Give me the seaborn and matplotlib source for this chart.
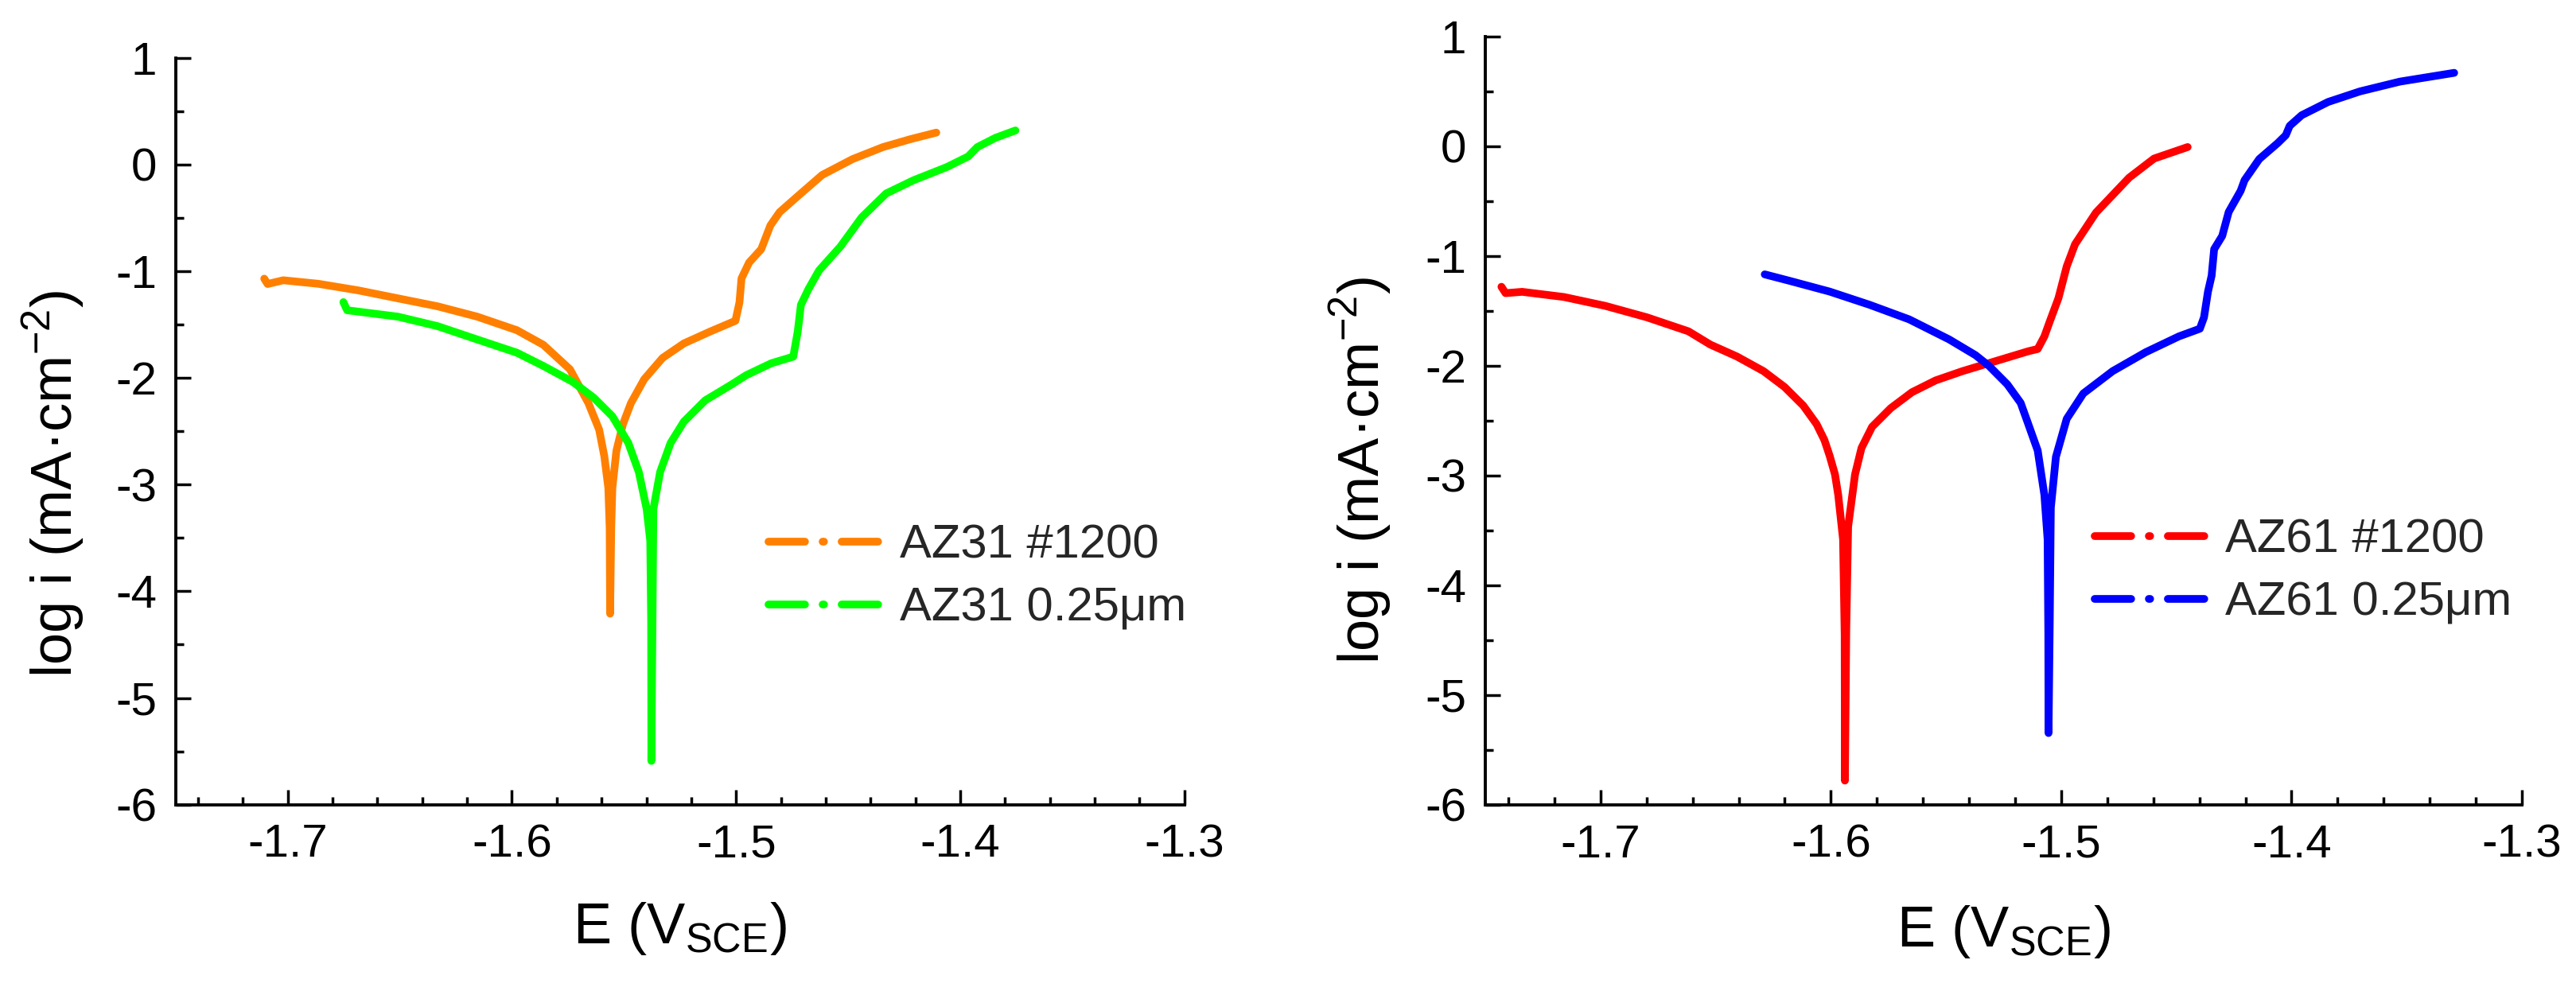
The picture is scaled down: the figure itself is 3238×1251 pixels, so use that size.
import numpy as np
import pandas as pd
import matplotlib
matplotlib.use('Agg')
import matplotlib.pyplot as plt
from matplotlib.lines import Line2D
from matplotlib.ticker import MultipleLocator, FormatStrFormatter
import seaborn as sns

# ---- AZ31 panel ----
az31_1200_E = [-1.7105, -1.7090, -1.7020, -1.6864, -1.6685, -1.6510, -1.6332, -1.6155, -1.5978,
               -1.5860, -1.5741, -1.5659, -1.5611, -1.5588, -1.5570, -1.5564, -1.5562, -1.5557,
               -1.5552, -1.5534, -1.5505, -1.5469, -1.5410, -1.5328, -1.5233, -1.5115, -1.5003,
               -1.4985, -1.4976, -1.4942, -1.4888, -1.4847, -1.4806, -1.4725, -1.4616, -1.4480,
               -1.4345, -1.4223, -1.4107]
az31_1200_logi = [-1.07, -1.12, -1.085, -1.118, -1.180, -1.254, -1.329, -1.426, -1.553,
                  -1.69, -1.92, -2.236, -2.485, -2.733, -3.031, -3.404, -4.21, -3.40,
                  -3.031, -2.684, -2.435, -2.236, -2.013, -1.813, -1.677, -1.565, -1.465,
                  -1.292, -1.068, -0.919, -0.794, -0.571, -0.447, -0.297, -0.098, 0.051,
                  0.163, 0.237, 0.299]

az31_025_E = [-1.6752, -1.6735, -1.6509, -1.6332, -1.6155, -1.5978, -1.5860, -1.5729, -1.5635,
              -1.5552, -1.5481, -1.5434, -1.5399, -1.5383, -1.5379, -1.5378, -1.5373, -1.5369,
              -1.5339, -1.5292, -1.5233, -1.5138, -1.5020, -1.4955, -1.4843, -1.4745, -1.4725,
              -1.4711, -1.4677, -1.4630, -1.4535, -1.4440, -1.4331, -1.4209, -1.4060, -1.3965,
              -1.3924, -1.3843, -1.3754]
az31_025_logi = [-1.29, -1.366, -1.426, -1.515, -1.640, -1.764, -1.888, -2.037, -2.186,
                 -2.360, -2.609, -2.882, -3.230, -3.528, -4.274, -5.59, -4.27, -3.230,
                 -2.882, -2.609, -2.410, -2.211, -2.062, -1.975, -1.863, -1.801, -1.565,
                 -1.316, -1.167, -0.993, -0.770, -0.496, -0.272, -0.148, -0.024, 0.075,
                 0.163, 0.250, 0.319]

# ---- AZ61 panel ----
az61_1200_E = [-1.7430, -1.7412, -1.7340, -1.7159, -1.6979, -1.6799, -1.6618, -1.6523, -1.6408,
               -1.6292, -1.6201, -1.6120, -1.6062, -1.6028, -1.6005, -1.5982, -1.5968, -1.5947,
               -1.5940, -1.5939, -1.5933, -1.5925, -1.5895, -1.5867, -1.5821, -1.5740, -1.5648,
               -1.5545, -1.5429, -1.5314, -1.5142, -1.5102, -1.5073, -1.5048, -1.5012, -1.4976,
               -1.4940, -1.4849, -1.4705, -1.4597, -1.4451]
az61_1200_logi = [-1.280, -1.338, -1.326, -1.373, -1.454, -1.558, -1.686, -1.807, -1.915,
                  -2.049, -2.193, -2.362, -2.531, -2.676, -2.821, -2.990, -3.177, -3.582,
                  -4.449, -5.779, -4.40, -3.466, -2.990, -2.749, -2.556, -2.386, -2.241,
                  -2.133, -2.049, -1.976, -1.867, -1.847, -1.732, -1.587, -1.384, -1.094,
                  -0.893, -0.604, -0.286, -0.112, -0.007]

az61_025_E = [-1.6287, -1.6177, -1.6005, -1.5832, -1.5660, -1.5487, -1.5372, -1.5314, -1.5234,
              -1.5176, -1.5147, -1.5102, -1.5073, -1.5059, -1.5056, -1.5055, -1.5050, -1.5045,
              -1.5023, -1.4976, -1.4904, -1.4777, -1.4633, -1.4489, -1.4398, -1.4380, -1.4363,
              -1.4347, -1.4336, -1.4301, -1.4273, -1.4221, -1.4204, -1.4140, -1.4060, -1.4025,
              -1.4008, -1.3956, -1.3841, -1.3703, -1.3530, -1.3294]
az61_025_logi = [-1.167, -1.227, -1.324, -1.444, -1.577, -1.759, -1.903, -2.000, -2.169,
                 -2.338, -2.507, -2.772, -3.177, -3.582, -4.449, -5.346, -4.40, -3.293,
                 -2.830, -2.483, -2.252, -2.049, -1.876, -1.732, -1.662, -1.558, -1.326,
                 -1.179, -0.937, -0.817, -0.599, -0.406, -0.309, -0.116, 0.029, 0.101,
                 0.186, 0.283, 0.404, 0.500, 0.589, 0.669]

left_labels = ['AZ31 #1200', 'AZ31 0.25μm']
left_colors = ['#FF8000', '#00FF00']
right_labels = ['AZ61 #1200', 'AZ61 0.25μm']
right_colors = ['#FF0000', '#0000FF']


def make_df(series, labels):
    parts = []
    for (E, logi), lab in zip(series, labels):
        parts.append(pd.DataFrame({'E': E, 'logi': logi, 'sample': lab}))
    return pd.concat(parts, ignore_index=True)


df_left = make_df([(az31_1200_E, az31_1200_logi), (az31_025_E, az31_025_logi)], left_labels)
df_right = make_df([(az61_1200_E, az61_1200_logi), (az61_025_E, az61_025_logi)], right_labels)

sns.set_theme(style='ticks')
plt.rcParams['font.family'] = ['Liberation Sans', 'DejaVu Sans']
plt.rcParams['mathtext.default'] = 'regular'
plt.rcParams['axes.unicode_minus'] = False
plt.rcParams['lines.scale_dashes'] = False

fig = plt.figure(figsize=(32.38, 12.51), dpi=100)
ax1 = fig.add_axes([0.0682, 0.1913, 0.3916, 0.7506])
ax2 = fig.add_axes([0.5766, 0.1911, 0.4024, 0.7722])


def draw_panel(ax, df, labels, colors, leg_anchor, ylab_y):
    sns.lineplot(data=df, x='E', y='logi', hue='sample', hue_order=labels,
                 palette=dict(zip(labels, colors)), sort=False, estimator=None,
                 lw=7, legend=False, ax=ax, solid_capstyle='round', solid_joinstyle='round')
    ax.set_xlim(-1.75, -1.3)
    ax.set_ylim(-6, 1)
    ax.xaxis.set_major_locator(MultipleLocator(0.1))
    ax.xaxis.set_minor_locator(MultipleLocator(0.02))
    ax.yaxis.set_major_locator(MultipleLocator(1))
    ax.yaxis.set_minor_locator(MultipleLocator(0.5))
    ax.xaxis.set_major_formatter(FormatStrFormatter('%.1f'))
    ax.yaxis.set_major_formatter(FormatStrFormatter('%d'))
    for s in ['top', 'right']:
        ax.spines[s].set_visible(False)
    for s in ['left', 'bottom']:
        ax.spines[s].set_linewidth(2.8)
        ax.spines[s].set_color('black')
    ax.tick_params(which='both', direction='in', width=2.5, color='black',
                   labelcolor='black', labelsize=42)
    ax.tick_params(which='major', length=13.5, pad=17)
    ax.tick_params(which='minor', length=7.2)

    ax.set_xlabel('E (V$_{SCE}$)', fontsize=52, color='black')
    ax.set_ylabel('log i (mA·cm$^{-2}$)', fontsize=52, color='black')
    ax.xaxis.set_label_coords(0.5, -0.128)
    ax.yaxis.set_label_coords(-0.089, ylab_y)

    handles = [Line2D([], [], color=c, lw=7, dashes=(33, 16, 1.2, 16),
                      dash_capstyle='round') for c in colors]
    ax.legend(handles, labels, loc='upper left', bbox_to_anchor=leg_anchor,
              frameon=False, fontsize=43, borderpad=0, borderaxespad=0,
              handlelength=2.4, handletextpad=0.35, labelspacing=0.4)


draw_panel(ax1, df_left, left_labels, left_colors, (0.588, 0.376), 0.43)
draw_panel(ax2, df_right, right_labels, right_colors, (0.588, 0.373), 0.435)

fig.savefig('out.png', dpi=100, facecolor='white')
